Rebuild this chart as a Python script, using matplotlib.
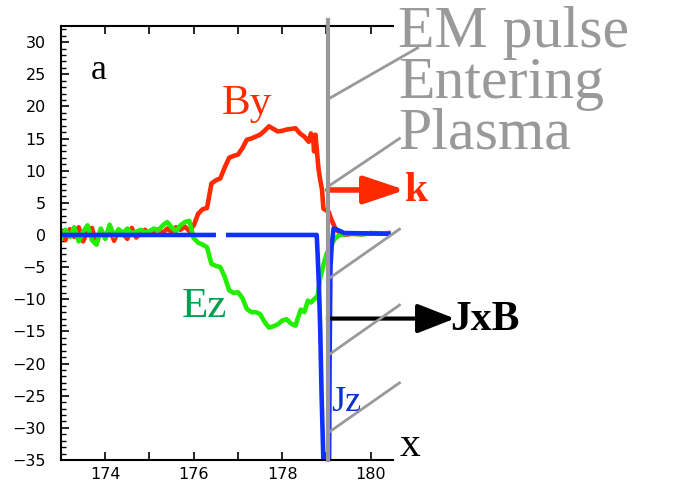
import numpy as np
import matplotlib.pyplot as plt
from matplotlib.ticker import MultipleLocator

# --- data ---
noise_x = [173.0 + 0.1 * i for i in range(30)]
by_noise = [0.5, -0.8, 0.9, -0.3, 1.2, -1.0, 0.6, 1.1, -1.4, 0.8,
            -0.5, 1.0, -0.9, 0.7, 0.2, -0.6, 1.1, -0.4, 0.3, 0.8,
            0.1, 0.6, 0.9, 0.3, 1.0, 0.5, 1.2, 0.8, 1.3, 0.6]
ez_noise = [-0.5, 0.8, -0.3, 1.2, -1.0, 0.5, 1.5, -0.8, -1.5, 1.0,
            -0.6, 1.6, -0.2, 0.9, 0.3, 1.0, 0.2, 0.5, 0.8, 0.4,
            0.6, 1.0, 0.7, 1.5, 2.0, 1.2, 0.6, 1.5, 2.0, 2.2]

by_x = [176.0, 176.1, 176.2, 176.3, 176.4, 176.5, 176.6, 176.7, 176.8, 176.9,
        177.0, 177.1, 177.2, 177.3, 177.4, 177.5, 177.6, 177.7, 177.8, 177.9,
        178.0, 178.1, 178.2, 178.3, 178.4, 178.5, 178.6, 178.65, 178.7, 178.72,
        178.75, 178.78, 178.82, 178.86, 178.9, 178.93, 179.0, 179.05, 179.1, 179.15,
        179.2, 179.3, 179.4, 179.6, 179.8, 180.0, 180.2, 180.4]
by_y = [1.5, 3.3, 4.0, 4.2, 8.0, 8.5, 8.8, 10.5, 12.0, 12.3,
        12.5, 13.5, 14.8, 15.0, 15.3, 15.6, 16.2, 16.9, 16.5, 16.1,
        16.2, 16.4, 16.5, 16.6, 15.8, 15.3, 14.5, 15.8, 14.8, 13.0,
        15.6, 13.4, 10.3, 8.5, 7.0, 4.1, 3.8, 3.6, 2.6, 1.8,
        1.0, 0.3, 0.0, 0.2, 0.1, 0.3, 0.2, 0.3]

ez_x = [176.0, 176.1, 176.2, 176.3, 176.4, 176.5, 176.6, 176.7, 176.8, 176.9,
        177.0, 177.1, 177.2, 177.3, 177.4, 177.5, 177.6, 177.7, 177.8, 177.9,
        178.0, 178.1, 178.2, 178.3, 178.35, 178.42, 178.5, 178.58, 178.65, 178.72,
        178.8, 178.85, 178.93, 179.0, 179.1, 179.2, 179.3, 179.5, 179.8, 180.1, 180.4]
ez_y = [-0.5, -1.2, -1.5, -1.9, -4.5, -4.8, -5.0, -6.5, -8.6, -9.0,
        -8.9, -9.8, -11.5, -12.0, -12.0, -12.3, -13.5, -14.4, -14.2, -13.9,
        -13.3, -13.1, -13.8, -14.1, -13.0, -11.6, -12.0, -10.2, -10.5, -10.0,
        -9.5, -7.0, -4.7, -3.0, -1.6, -0.5, 0.0, 0.2, 0.1, 0.3, 0.2]

jz_x = [173.0, 176.45, 176.6, 176.78, 178.78, 178.80, 178.83, 178.86, 178.89, 178.93,
        179.06, 179.07, 179.09, 179.12, 179.16, 179.25, 179.4, 180.4]
jz_y = [0, 0, np.nan, 0, 0, -3, -8, -15, -25, -35,
        -35, -20, -5, -1.5, 1.0, 0.8, 0.3, 0.2]

front_x = 179.03
# gray hatch lines on the pulse front: (y start, x end, y end)
hatch = [(21.1, 181.06, 29.1), (7.5, 180.65, 15.0), (-6.9, 180.65, 0.9),
         (-18.75, 180.65, -10.9), (-30.8, 180.65, -23.0)]

red = '#ff2a00'
green = '#22ee00'
blue = '#1030ff'
gray = '#999999'
serif = 'Liberation Serif'

fig = plt.figure(figsize=(6.8, 4.87), dpi=100)
ax = fig.add_axes([0.0897, 0.0554, 0.488, 0.8912])

ax.plot(noise_x + by_x, by_noise + by_y, color=red, lw=3.3)
ax.plot(noise_x + ez_x, ez_noise + ez_y, color=green, lw=3.3)
ax.plot(jz_x, jz_y, color=blue, lw=3.3)

ax.set_xlim(173.0, 180.5)
ax.set_ylim(-35, 32.5)

# pulse front and hatching
ax.plot([front_x, front_x], [-35, 33.5], color=gray, lw=3, clip_on=False, zorder=5)
for y0, x1, y1 in hatch:
    ax.plot([front_x, x1], [y0, y1], color=gray, lw=2, clip_on=False, zorder=5)

ax.annotate('', xy=(180.78, 7.0), xytext=(front_x, 7.0), annotation_clip=False,
            arrowprops=dict(arrowstyle='-|>,head_length=1.25,head_width=0.42',
                            color=red, lw=4, mutation_scale=20,
                            shrinkA=0, shrinkB=0))
ax.annotate('', xy=(181.9, -13.0), xytext=(front_x, -13.0), annotation_clip=False,
            arrowprops=dict(arrowstyle='-|>,head_length=1.15,head_width=0.45',
                            color='black', lw=3, mutation_scale=20,
                            shrinkA=0, shrinkB=0))

# labels
ax.text(173.68, 24.2, 'a', family=serif, fontsize=26, color='black')
ax.text(176.64, 18.8, 'By', family=serif, fontsize=31, color=red)
ax.text(175.74, -12.7, 'Ez', family=serif, fontsize=31, color='#00a050')
ax.text(179.1, -27.4, 'Jz', family=serif, fontsize=26, color='#0a30d0')
ax.text(180.65, -34.4, 'x', family=serif, fontsize=30, color='black')
ax.text(180.78, 5.3, 'k', family=serif, fontsize=30, fontweight='bold', color=red)
ax.text(181.8, -14.8, 'JxB', family=serif, fontsize=30, fontweight='bold', color='black')
ax.text(180.62, 13.4, 'EM pulse\nEntering\nPlasma', family=serif, fontsize=43,
        color=gray, linespacing=0.92, va='baseline')

# axes styling
ax.spines['right'].set_visible(False)
for s in ['left', 'bottom', 'top']:
    ax.spines[s].set_linewidth(1.5)
ax.set_xticks(range(173, 181))
ax.set_xticklabels(['' if t % 2 else str(t) for t in range(173, 181)])
ax.yaxis.set_major_locator(MultipleLocator(5))
ax.yaxis.set_minor_locator(MultipleLocator(1))
ax.tick_params(axis='x', direction='in', top=True, length=6, width=1.2,
               labelsize=11.5, pad=5)
ax.tick_params(axis='y', which='major', direction='in', length=6, width=1.2,
               labelsize=11.5, pad=11)
ax.tick_params(axis='y', which='minor', direction='in', length=3.5, width=1)

fig.savefig('out.png', dpi=100)
